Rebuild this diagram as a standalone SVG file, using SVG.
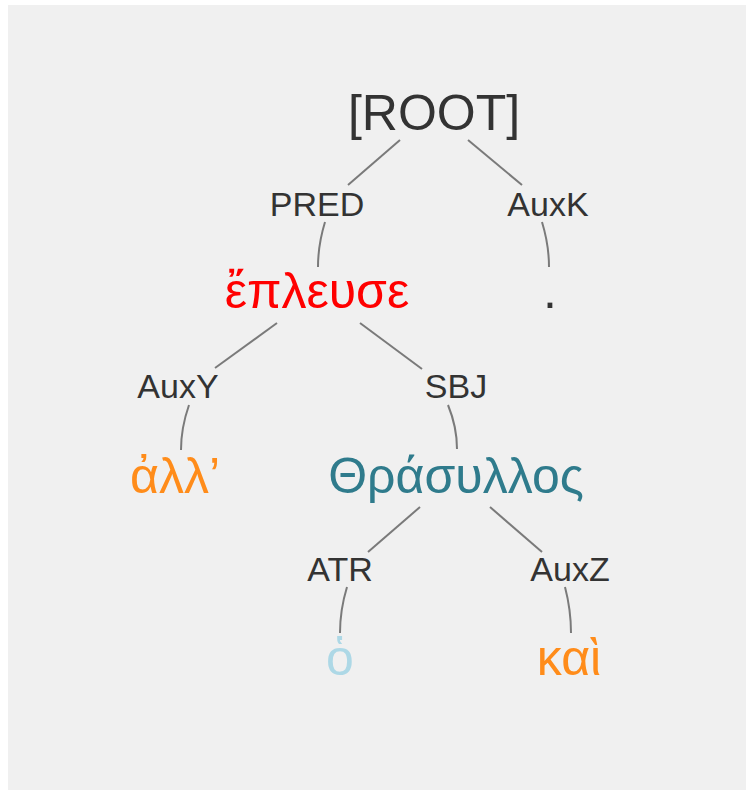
<svg xmlns="http://www.w3.org/2000/svg" width="746" height="791" viewBox="0 0 746 791">
<style>
text{font-family:"Liberation Sans","DejaVu Sans","Noto Sans",sans-serif;text-anchor:middle}
.w{font-size:50px}
.l{font-size:34px;fill:#333}
.c path{fill:none;stroke:#7a7a7a;stroke-width:2}
</style>
<rect x="0" y="0" width="746" height="791" fill="#ffffff"/>
<rect x="8" y="5" width="738" height="785" fill="#f0f0f0"/>
<g class="c" id="connectors">
<path d="M400,140 L348,185"/>
<path d="M468,140 L522,185"/>
<path d="M325,222 Q318,245 318,267"/>
<path d="M542,222 Q549,245 549,267"/>
<path d="M277,323 L215,368"/>
<path d="M360,323 L422,369"/>
<path d="M189,405 Q181,428 181,450"/>
<path d="M448,405 Q457,427 457,449"/>
<path d="M420,507 L368,552"/>
<path d="M490,507 L542,552"/>
<path d="M347,587 Q340,610 340,633"/>
<path d="M565,587 Q571,610 571,633"/>
</g>
<g id="root"><text class="w" x="434" y="130" fill="#333">[ROOT]</text></g>
<g id="pred"><text class="l" x="317" y="216">PRED</text></g>
<g id="auxk"><text class="l" x="548" y="216">AuxK</text></g>
<g id="eplause"><text class="w" x="317" y="308" fill="#ff0000">ἔπλευσε</text></g>
<g id="period"><text class="w" x="550" y="308" fill="#333">.</text></g>
<g id="auxy"><text class="l" x="178" y="398">AuxY</text></g>
<g id="sbj"><text class="l" x="456" y="398">SBJ</text></g>
<g id="all"><text class="w" x="175" y="493" fill="#ff8c1a">ἀλλ’</text></g>
<g id="thrasyllos"><text class="w" x="456" y="493" fill="#2f7b8c">Θράσυλλος</text></g>
<g id="atr"><text class="l" x="340" y="581">ATR</text></g>
<g id="auxz"><text class="l" x="570" y="581">AuxZ</text></g>
<g id="ho"><text class="w" x="340" y="675" fill="#add8e6">ὁ</text></g>
<g id="kai"><text class="w" x="569" y="675" fill="#ff8c1a">καὶ</text></g>
</svg>
